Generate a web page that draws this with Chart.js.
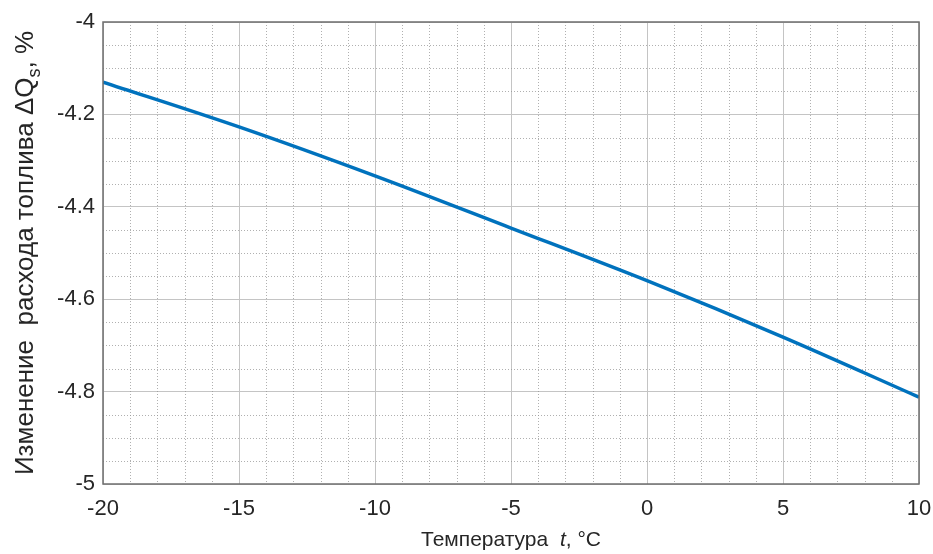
<!DOCTYPE html>
<html>
<head>
<meta charset="utf-8">
<script src="https://cdn.jsdelivr.net/npm/chart.js@4"></script>
<style>
  html, body { margin: 0; padding: 0; background: #fff; }
  #wrap { width: 933px; height: 554px; }
</style>
</head>
<body>
<div id="wrap"><canvas id="fuelChart" width="933" height="554"></canvas></div>
<script>
// values
const temps = [-20, -15, -10, -5, 0, 5, 10];
const fuelChange = [-4.13, -4.227, -4.333, -4.446, -4.56, -4.682, -4.812];

const xTicks = [-20, -15, -10, -5, 0, 5, 10];
const yTicks = [-5, -4.8, -4.6, -4.4, -4.2, -4];

const FONT = '"Liberation Sans", Arial, sans-serif';

// minor dotted grid + box round the plot, like the original figure
const gridPlugin = {
    id: 'minorGrid',
    beforeDatasetsDraw(chart) {
        const ctx = chart.ctx;
        const x = chart.scales.x, y = chart.scales.y;
        const area = chart.chartArea;
        ctx.save();
        ctx.strokeStyle = 'rgba(150,150,150,0.75)';
        ctx.lineWidth = 1;
        ctx.setLineDash([1, 2]);
        for (let v = -20; v <= 10; v += 1) {
            if (v % 5 === 0) continue;
            const px = Math.round(x.getPixelForValue(v)) + 0.5;
            ctx.beginPath();
            ctx.moveTo(px, area.top);
            ctx.lineTo(px, area.bottom);
            ctx.stroke();
        }
        for (let i = 0; i <= 20; i++) {
            if (i % 4 === 0) continue;
            const v = -5 + i * 0.05;
            const py = Math.round(y.getPixelForValue(v)) + 0.5;
            ctx.beginPath();
            ctx.moveTo(area.left, py);
            ctx.lineTo(area.right, py);
            ctx.stroke();
        }
        ctx.restore();
    },
    afterDatasetsDraw(chart) {
        const ctx = chart.ctx;
        const a = chart.chartArea;
        ctx.save();
        ctx.strokeStyle = '#6e6e6e';
        ctx.lineWidth = 1.5;
        ctx.strokeRect(a.left, a.top, a.right - a.left, a.bottom - a.top);
        ctx.restore();
    }
};

// axis titles with italic t and subscript s
const titlePlugin = {
    id: 'axisTitles',
    afterDraw(chart) {
        const ctx = chart.ctx;
        const a = chart.chartArea;
        ctx.save();
        ctx.fillStyle = '#262626';
        ctx.textBaseline = 'alphabetic';

        // x title
        const parts = [
            { t: 'Температура  ', f: '21px ' + FONT },
            { t: 't', f: 'italic 21px ' + FONT },
            { t: ', °C', f: '21px ' + FONT }
        ];
        let w = 0;
        parts.forEach(p => { ctx.font = p.f; p.w = ctx.measureText(p.t).width; w += p.w; });
        let cx = (a.left + a.right) / 2 - w / 2;
        parts.forEach(p => { ctx.font = p.f; ctx.fillText(p.t, cx, 546); cx += p.w; });

        // y title, rotated
        ctx.translate(33, (a.top + a.bottom) / 2);
        ctx.rotate(-Math.PI / 2);
        const yParts = [
            { t: 'Изменение  расхода топлива ΔQ', f: '26px ' + FONT, dy: 0 },
            { t: 's', f: '18px ' + FONT, dy: 7 },
            { t: ', %', f: '26px ' + FONT, dy: 0 }
        ];
        w = 0;
        yParts.forEach(p => { ctx.font = p.f; p.w = ctx.measureText(p.t).width; w += p.w; });
        cx = -w / 2;
        yParts.forEach(p => { ctx.font = p.f; ctx.fillText(p.t, cx, p.dy); cx += p.w; });
        ctx.restore();
    }
};

new Chart(document.getElementById('fuelChart'), {
    type: 'line',
    data: {
        datasets: [{
            data: temps.map((t, i) => ({ x: t, y: fuelChange[i] })),
            borderColor: 'rgb(0,114,189)',
            borderWidth: 3.5,
            pointRadius: 0,
            cubicInterpolationMode: 'monotone',
            fill: false
        }]
    },
    options: {
        responsive: false,
        animation: false,
        layout: { padding: { top: 22, right: 14, left: 0, bottom: 0 } },
        plugins: {
            legend: { display: false },
            tooltip: { enabled: false }
        },
        scales: {
            x: {
                type: 'linear',
                min: -20,
                max: 10,
                afterBuildTicks: s => { s.ticks = xTicks.map(v => ({ value: v })); },
                afterFit: s => { s.height = 70; s.paddingLeft = 0; s.paddingRight = 0; },
                ticks: {
                    padding: 12,
                    color: '#262626',
                    font: { family: FONT, size: 22 },
                    maxRotation: 0
                },
                grid: { color: '#c4c4c4', lineWidth: 1, tickLength: 0 },
                border: { display: false }
            },
            y: {
                type: 'linear',
                min: -5,
                max: -4,
                afterBuildTicks: s => { s.ticks = yTicks.map(v => ({ value: v })); },
                afterFit: s => { s.width = 103; s.paddingTop = 0; s.paddingBottom = 0; },
                ticks: {
                    padding: 8,
                    color: '#262626',
                    font: { family: FONT, size: 22 },
                    callback: v => String(Math.round(v * 10) / 10)
                },
                grid: { color: '#c4c4c4', lineWidth: 1, tickLength: 0 },
                border: { display: false }
            }
        }
    },
    plugins: [gridPlugin, titlePlugin]
});
</script>
</body>
</html>
